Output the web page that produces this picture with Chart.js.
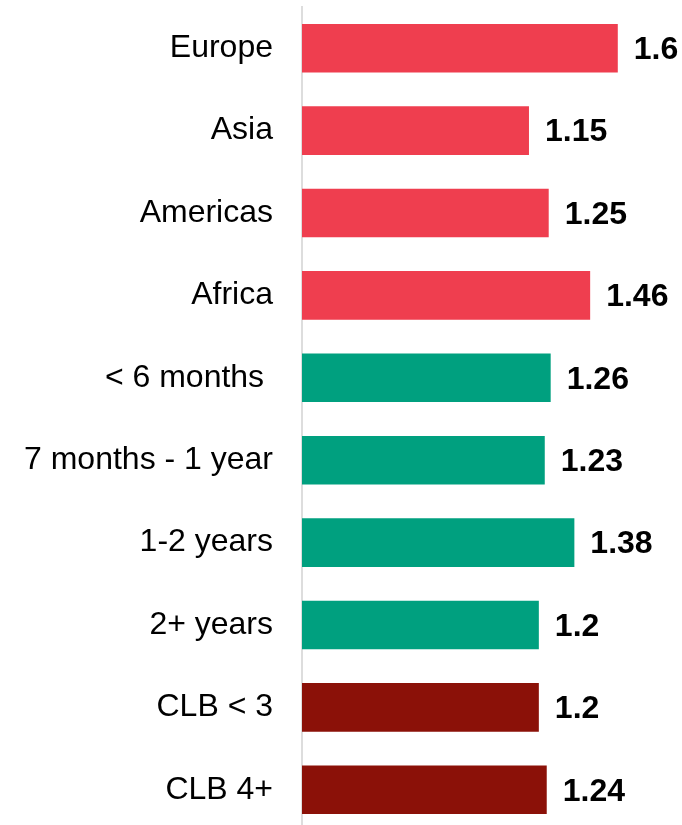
<!DOCTYPE html>
<html>
<head>
<meta charset="utf-8">
<script src="https://cdn.jsdelivr.net/npm/chart.js@4"></script>
<style>
  html, body { margin: 0; padding: 0; background: #fff; overflow: hidden; }
  #wrap { width: 682px; height: 831px; }
</style>
</head>
<body>
<div id="wrap"><canvas id="myChart" width="682" height="831"></canvas></div>
<script>
var categories = ["Europe", "Asia", "Americas", "Africa", "< 6 months ", "7 months - 1 year", "1-2 years", "2+ years", "CLB < 3", "CLB 4+"];
var values = [1.6, 1.15, 1.25, 1.46, 1.26, 1.23, 1.38, 1.2, 1.2, 1.24];
var groups = ["region", "region", "region", "region", "time", "time", "time", "time", "clb", "clb"];

var groupColors = { region: "#EF3E4F", time: "#00A07F", clb: "#8B1108" };

// numbers printed to the right of each bar
var valueLabels = {
    id: "valueLabels",
    afterDatasetsDraw(chart) {
        let ctx = chart.ctx;
        let meta = chart.getDatasetMeta(0);
        ctx.save();
        ctx.font = "bold 32px 'Liberation Sans', Arial, sans-serif";
        ctx.fillStyle = "#000";
        ctx.textAlign = "left";
        ctx.textBaseline = "middle";
        meta.data.forEach((bar, i) => {
            ctx.fillText(String(values[i]), bar.x + 16, bar.y + 2);
        });
        ctx.restore();
    }
};

let ctx = document.getElementById("myChart").getContext("2d");
let myChart = new Chart(ctx, {
    type: "bar",
    data: {
        labels: categories,
        datasets: [{
            data: values,
            backgroundColor: groups.map(g => groupColors[g]),
            borderWidth: 0,
            barPercentage: 0.59,
            categoryPercentage: 1
        }]
    },
    options: {
        indexAxis: "y",
        responsive: false,
        animation: false,
        layout: { padding: { top: 7, right: 5, bottom: 0, left: 0 } },
        plugins: {
            legend: { display: false },
            tooltip: { enabled: false }
        },
        scales: {
            x: {
                display: false,
                min: 0,
                max: 1.9
            },
            y: {
                grid: { display: false },
                border: { display: true, color: "#DDDDDD", width: 2 },
                ticks: {
                    color: "#000",
                    padding: 21,
                    font: { family: "'Liberation Sans', Arial, sans-serif", size: 32 }
                },
                afterFit(scale) {
                    scale.width = 302;
                    // no extra room above/below for the first and last label
                    scale.paddingTop = 0;
                    scale.paddingBottom = 0;
                }
            }
        }
    },
    plugins: [valueLabels]
});
</script>
</body>
</html>
